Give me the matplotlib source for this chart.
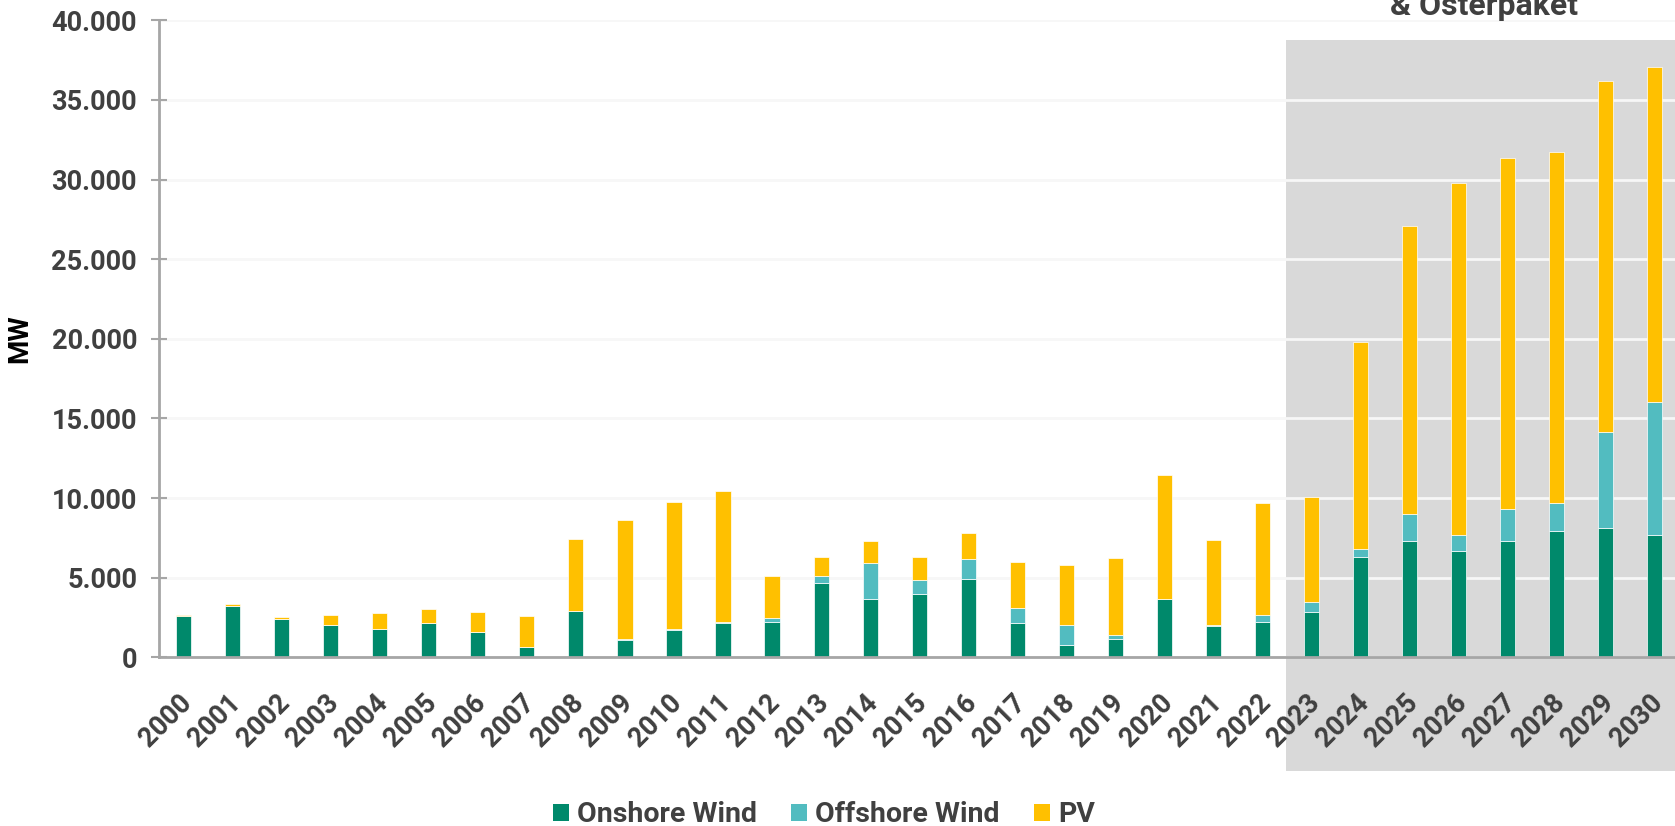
import matplotlib
matplotlib.use("Agg")
import matplotlib.pyplot as plt
from matplotlib.patches import Rectangle, Patch
from matplotlib.ticker import FuncFormatter, MultipleLocator
from matplotlib.transforms import ScaledTranslation
import numpy as np

plt.rcParams['font.family'] = ['Roboto', 'DejaVu Sans']

years = [str(y) for y in range(2000, 2031)]
onshore = [2620, 3190, 2380, 2000, 1790, 2170, 1600, 630, 2890, 1080, 1690,
           2130, 2240, 4660, 3650, 3970, 4900, 2130, 800, 1180, 3650, 1960,
           2240, 2850, 6300, 7300, 6700, 7300, 7910, 8120, 7700]
offshore = [0, 0, 0, 0, 0, 0, 0, 0, 0, 40, 80,
            110, 250, 460, 2300, 890, 1250, 990, 1200, 210, 40, 40,
            400, 620, 500, 1700, 980, 2010, 1800, 6030, 8330]
pv = [60, 130, 150, 680, 970, 870, 1270, 1960, 4520, 7510, 7980,
      8230, 2640, 1200, 1350, 1460, 1650, 2890, 3780, 4870, 7750, 5340,
      7050, 6620, 13000, 18100, 22090, 22020, 22020, 22040, 21040]
series_names = ["Onshore Wind", "Offshore Wind", "PV"]
colors = ["#00896B", "#52BCC0", "#FFC000"]
title_text = "& Osterpaket"
ylabel = "MW"

W, H = 1675, 826
fig = plt.figure(figsize=(W / 100, H / 100), dpi=100)
ax = fig.add_axes([159 / W, 1 - 657.3 / H, 1 - 159 / W, (657.3 - 20.3) / H])

x = np.arange(len(years))
on = np.array(onshore)
off = np.array(offshore)
p = np.array(pv)
bw = 0.31
kw = dict(width=bw, edgecolor='white', linewidth=0.5, zorder=3)
ax.bar(x, on, color=colors[0], **kw)
ax.bar(x, off, bottom=on, color=colors[1], **kw)
ax.bar(x, p, bottom=on + off, color=colors[2], **kw)

ax.set_xlim(-0.5, 30.41)
ax.set_ylim(0, 40000)

# shaded forecast region
rect = Rectangle((22.47, -7150), 10, 38750 + 7150, facecolor='#D9D9D9',
                 edgecolor='none', zorder=0.2, clip_on=False)
ax.add_patch(rect)

ax.yaxis.set_major_locator(MultipleLocator(5000))
ax.yaxis.set_major_formatter(FuncFormatter(lambda v, _: f"{int(v):,}".replace(",", ".")))
ax.grid(axis='y', color='#f7f7f7', linewidth=2, zorder=1)
ax.set_axisbelow(True)

for s in ['top', 'right']:
    ax.spines[s].set_visible(False)
for s in ['left', 'bottom']:
    ax.spines[s].set_color('#A6A6A6')
    ax.spines[s].set_linewidth(2)
    ax.spines[s].set_zorder(4)

ax.tick_params(axis='y', direction='inout', length=11.5, width=1.5, color='#A6A6A6',
               labelsize=19.5, labelcolor='#404040', pad=10)
for lab in ax.get_yticklabels():
    lab.set_fontweight('bold')

ax.set_xticks(x)
ax.set_xticklabels(years, rotation=45, ha='right', va='center',
                   rotation_mode='anchor', fontsize=19.5, fontweight='bold', color='#404040')
ax.tick_params(axis='x', length=0, pad=30)
shift = ScaledTranslation(4 / 100, 0, fig.dpi_scale_trans)
for lab in ax.get_xticklabels():
    lab.set_transform(lab.get_transform() + shift)

ax.set_ylabel(ylabel, fontsize=20, fontweight='bold', color='black')
ax.yaxis.set_label_coords(-0.083, 0.5)

fig.text(1484 / W, 1 - 15 / H, title_text, ha='center', va='baseline',
         fontsize=23, fontweight='bold', color='#404040')

handles = [Patch(facecolor=c, edgecolor='none') for c in colors]
leg = fig.legend(handles, series_names, loc='center', ncol=3,
                 bbox_to_anchor=(824 / W, 1 - 815 / H), frameon=False,
                 prop={'family': 'Roboto', 'weight': 'bold', 'size': 20.5},
                 handlelength=0.55, handleheight=0.55, handletextpad=0.3,
                 columnspacing=1.2, borderaxespad=0)
for t in leg.get_texts():
    t.set_color('#404040')

fig.savefig("out.png", dpi=100)
